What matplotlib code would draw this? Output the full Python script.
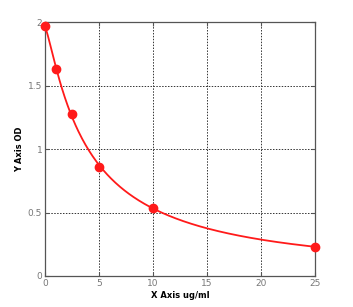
import numpy as np
import matplotlib.pyplot as plt

# standard curve points
conc = [0, 1, 2.5, 5, 10, 25]
od = [1.97, 1.63, 1.28, 0.86, 0.535, 0.23]

x_ticks = [0, 5, 10, 15, 20, 25]
y_ticks = [0, 0.5, 1, 1.5, 2]
y_labels = ['0', '0.5', '1', '1.5', '2']

# smooth fitted curve: polynomial in log space
lx = np.log(np.array(conc) + 1)
ly = np.log(np.array(od))
coef = np.polyfit(lx, ly, 3)
xs = np.linspace(0, 25, 300)
ys = np.exp(np.polyval(coef, np.log(xs + 1)))

fig = plt.figure(figsize=(3.53, 3.07), dpi=100)
ax = fig.add_axes([0.1275, 0.101, 0.765, 0.827])

ax.plot(xs, ys, color='#ff1a1a', lw=1.3, zorder=3)
ax.plot(conc, od, 'o', color='#ff1a1a', ms=6, zorder=4, clip_on=False)

ax.set_xlim(0, 25)
ax.set_ylim(0, 2)
ax.set_xticks(x_ticks)
ax.set_yticks(y_ticks)
ax.set_yticklabels(y_labels)
ax.grid(True, color='#333333', linestyle=(0, (1.5, 1.5)), lw=0.7)
ax.tick_params(direction='in', labelsize=6.5, labelcolor='#777777', color='#555555',
               top=True, right=True, length=3, pad=2)
for s in ax.spines.values():
    s.set_color('#555555')
    s.set_linewidth(0.9)

ax.set_xlabel('X Axis ug/ml', fontsize=6, fontweight='bold', labelpad=2)
ax.set_ylabel('Y Axis OD', fontsize=6, fontweight='bold', labelpad=3)

fig.savefig('out.png', dpi=100)
